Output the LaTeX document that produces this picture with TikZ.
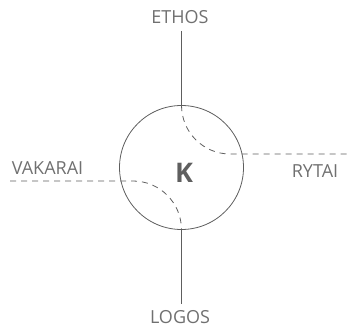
\documentclass[tikz,border=0pt]{standalone}
\usepackage{fontspec}
\setmainfont{Open Sans}
\definecolor{inkgray}{HTML}{707070}
\definecolor{linegray}{HTML}{5E5E5E}
\begin{document}
\begin{tikzpicture}[x=1pt,y=-1pt,
  label/.style={text=inkgray, font=\fontsize{18}{21}\selectfont, inner sep=0pt, anchor=center},
  conn/.style={draw=linegray, line width=0.8pt},
  dashconn/.style={conn, dash pattern=on 6pt off 5pt}]
\useasboundingbox (0,0) rectangle (347,328);

% central circle and its letter
\node[circle, draw=linegray, line width=0.8pt, minimum size=124pt, inner sep=0pt] (k) at (181.5,167.5) {};
\node[text=inkgray!85!black, font=\fontsize{27}{30}\selectfont\bfseries, inner sep=0pt] (kletter) at (184,172.5) {K};

% outer labels
\node[label] (ethos) at (180,17) {ETHOS};
\node[label] (logos) at (180,317) {LOGOS};
\node[label] (vakarai) at (47.5,168) {VAKARAI};
\node[label] (rytai) at (315,171) {RYTAI};

% free ends of the connectors
\coordinate (topend) at (181.5,31);
\coordinate (botend) at (181.5,304);
\coordinate (rightend) at (347,154);
\coordinate (leftend) at (10,181);

% solid vertical axis
\draw[conn] (topend) -- (k.north);
\draw[conn] (k.south) -- (botend);

% dashed curves bending into the horizontals
\draw[dashconn] (k.north) .. controls (181.5,132.5) and (203.5,154) .. (230,154) -- (rightend);
\draw[dashconn] (leftend) -- (133,181) .. controls (159.5,181) and (181.5,202.5) .. (k.south);
\end{tikzpicture}
\end{document}
